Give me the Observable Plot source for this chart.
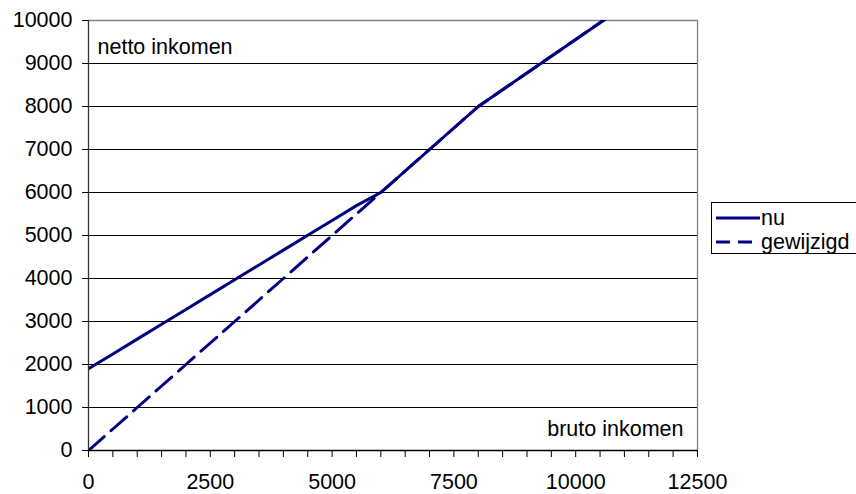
<!DOCTYPE html>
<html>
<head>
<meta charset="utf-8">
<script src="https://cdn.jsdelivr.net/npm/d3@7"></script>
<script src="https://cdn.jsdelivr.net/npm/@observablehq/plot@0.6"></script>
<style>
  html, body { margin: 0; padding: 0; background: #fff; overflow: hidden; }
  #wrap { position: relative; width: 856px; height: 494px; font-family: "Liberation Sans", Arial, sans-serif; }
  #legend { position: absolute; left: 711px; top: 202px; width: 160px; height: 50px; border: 1px solid #000; background: #fff; font-size: 21.5px; }
  .row { position: absolute; left: 4px; height: 24px; display: flex; align-items: center; white-space: nowrap; }
  .row svg { margin-right: 1px; }
</style>
</head>
<body>
<div id="wrap"><div id="legend"></div></div>
<script>
// Data (bruto -> netto)
const bruto = [0, 500, 1000, 1500, 2000, 2500, 3000, 3500, 4000, 4500, 5000, 5500, 6000, 6500, 7000, 7500, 8000, 8500, 9000, 9500, 10000, 10500, 11000];
const nu = [1900, 2245, 2590, 2935, 3280, 3625, 3970, 4315, 4660, 5005, 5350, 5695, 6000, 6500, 7000, 7500, 8000, 8390, 8780, 9170, 9560, 9950, 10340];
const gewijzigd = [0, 500, 1000, 1500, 2000, 2500, 3000, 3500, 4000, 4500, 5000, 5500, 6000, 6500, 7000, 7500, 8000, 8390, 8780, 9170, 9560, 9950, 10340];
const seriesNames = ["nu", "gewijzigd"];
const xTickValues = d3.range(0, 12501, 500);
const xLabelValues = [0, 2500, 5000, 7500, 10000, 12500];
const yTickValues = d3.range(0, 10001, 1000);
const yLabel = "netto inkomen";
const xLabel = "bruto inkomen";

const rows = [];
bruto.forEach((b, i) => {
  rows.push({series: "nu", x: b, y: nu[i]});
  rows.push({series: "gewijzigd", x: b, y: gewijzigd[i]});
});

const navy = "#000080";
const font = "Liberation Sans, Arial, sans-serif";

const chart = Plot.plot({
  width: 856,
  height: 494,
  marginLeft: 88,
  marginRight: 159,
  marginTop: 20,
  marginBottom: 44,
  style: {fontFamily: font, fontSize: "21.5px", background: "#fff", color: "#000"},
  x: {domain: [0, 12500]},
  y: {domain: [0, 10000]},
  marks: [
    Plot.ruleY(yTickValues.filter(d => d > 0 && d < 10000), {stroke: "#000", strokeWidth: 1, strokeOpacity: 1}),
    Plot.ruleY([10000], {stroke: "#808080", strokeWidth: 1.3}),
    Plot.ruleX([12500], {stroke: "#808080", strokeWidth: 1.3}),
    Plot.line(rows.filter(d => d.series === "gewijzigd"), {x: "x", y: "y", stroke: navy, strokeWidth: 3, strokeDasharray: "21,9", clip: true}),
    Plot.line(rows.filter(d => d.series === "nu"), {x: "x", y: "y", stroke: navy, strokeWidth: 3, clip: true}),
    Plot.ruleX([0], {stroke: "#333", strokeWidth: 1.3}),
    Plot.ruleY([0], {stroke: "#000", strokeWidth: 1.3}),
    Plot.axisY({ticks: yTickValues, tickSize: 6, tickPadding: 10, label: null, tickFormat: d => String(d), stroke: "#000"}),
    Plot.axisX({ticks: xTickValues, tickSize: 7, tickPadding: 16, label: null, tickFormat: d => xLabelValues.includes(d) ? String(d) : "", stroke: "#000"}),
    Plot.text([yLabel], {frameAnchor: "top-left", dx: 9, dy: 27, textAnchor: "start", lineAnchor: "middle", fontSize: 21.5, fill: "#000"}),
    Plot.text([xLabel], {frameAnchor: "bottom-right", dx: -14, dy: -21, textAnchor: "end", lineAnchor: "middle", fontSize: 21.5, fill: "#000"})
  ]
});
document.getElementById("wrap").prepend(chart);

// Legend
const legend = document.getElementById("legend");
seriesNames.forEach((name, i) => {
  const row = document.createElement("div");
  row.className = "row";
  row.style.top = (3 + i * 24) + "px";
  const s = d3.create("svg").attr("width", 44).attr("height", 20);
  s.append("line").attr("x1", 0).attr("x2", 44).attr("y1", 10).attr("y2", 10)
    .attr("stroke", navy).attr("stroke-width", 3)
    .attr("stroke-dasharray", name === "gewijzigd" ? "14,8" : null);
  row.appendChild(s.node());
  const t = document.createElement("span");
  t.textContent = name;
  row.appendChild(t);
  legend.appendChild(row);
});
</script>
</body>
</html>
